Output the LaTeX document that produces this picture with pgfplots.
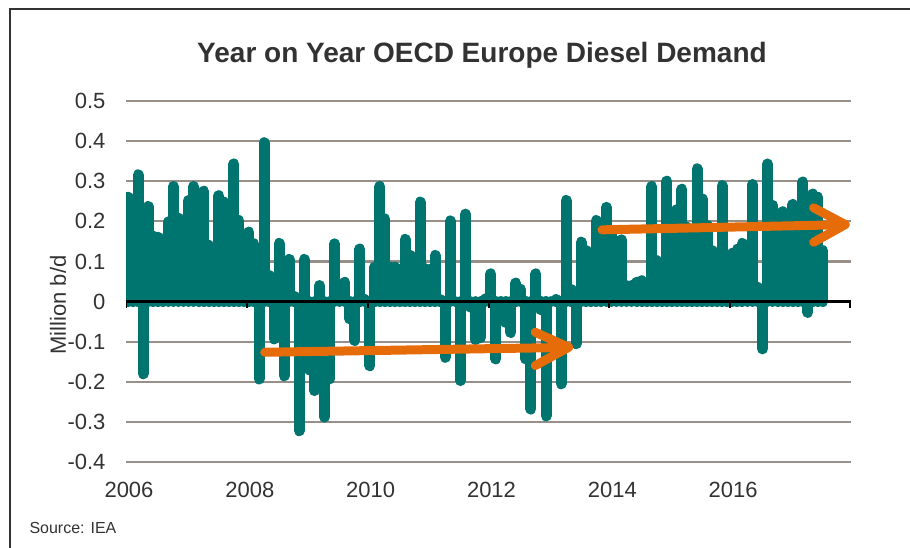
\documentclass[border=0pt]{standalone}
\usepackage{pgfplots}
\usepackage{pgfplotstable}
\pgfplotsset{compat=1.18}
\usepackage{fontspec}
\setmainfont{Liberation Sans}
\definecolor{barc}{RGB}{0,116,111}
\definecolor{gridc}{RGB}{152,143,136}
\definecolor{arr}{RGB}{230,108,10}
\definecolor{txt}{RGB}{50,50,50}
\pgfplotstableread{
i v
0 0.26
1 0.20
2 0.316
3 -0.18
4 0.237
5 0.163
6 0.16
7 0.15
8 0.199
9 0.287
10 0.208
11 0.18
12 0.252
13 0.287
14 0.25
15 0.275
16 0.14
17 0.12
18 0.264
19 0.248
20 0.22
21 0.343
22 0.202
23 0.15
24 0.173
25 0.144
26 -0.193
27 0.396
28 0.065
29 -0.093
30 0.145
31 -0.185
32 0.105
33 0.013
34 -0.322
35 0.105
36 -0.17
37 -0.222
38 0.04
39 -0.288
40 -0.193
41 0.144
42 0.02
43 0.048
44 -0.043
45 -0.097
46 0.131
47 0.005
48 -0.16
49 0.086
50 0.287
51 0.206
52 0.086
53 0.086
54 0.08
55 0.155
56 0.115
57 0.10
58 0.248
59 0.082
60 0.08
61 0.115
62 0.005
63 -0.139
64 0.201
65 0.0
66 -0.197
67 0.218
68 -0.014
69 -0.095
70 -0.09
71 0.007
72 0.069
73 -0.143
74 -0.04
75 -0.052
76 -0.077
77 0.046
78 0.03
79 -0.143
80 -0.268
81 0.069
82 -0.02
83 -0.285
84 0.0
85 0.005
86 -0.205
87 0.252
88 0.03
89 -0.105
90 0.148
91 0.127
92 0.10
93 0.202
94 0.15
95 0.235
96 0.177
97 0.15
98 0.154
99 0.04
100 0.04
101 0.048
102 0.052
103 0.03
104 0.287
105 0.102
106 0.09
107 0.30
108 0.20
109 0.229
110 0.28
111 0.185
112 0.17
113 0.331
114 0.256
115 0.19
116 0.127
117 0.10
118 0.289
119 0.10
120 0.12
121 0.13
122 0.145
123 0.13
124 0.292
125 0.036
126 -0.118
127 0.343
128 0.24
129 0.20
130 0.224
131 0.20
132 0.242
133 0.20
134 0.298
135 -0.027
136 0.268
137 0.26
138 0.127
}\demand
\begin{document}
\begin{tikzpicture}[x=1pt,y=1pt]
\useasboundingbox (0,0) rectangle (910,547);
\draw[line width=2pt, black!80] (10,-5) -- (10,538) -- (915,538);
\begin{axis}[
  at={(126pt,85pt)}, anchor=south west, scale only axis,
  width=725pt, height=361pt,
  xmin=0, xmax=144, ymin=-0.4, ymax=0.5,
  axis line style={draw=none},
  major tick length=0pt,
  xtick={0,24,48,72,96,120},
  xticklabels={2006,2008,2010,2012,2014,2016},
  ytick={-0.4,-0.3,-0.2,-0.1,0,0.1,0.2,0.3,0.4,0.5},
  yticklabels={-0.4,-0.3,-0.2,-0.1,0,0.1,0.2,0.3,0.4,0.5},
  ymajorgrids,
  grid style={gridc, line width=2.2pt},
  tick label style={font=\fontsize{22}{22}\selectfont, text=txt},
  xticklabel style={yshift=-17pt, xshift=3pt},
  yticklabel style={xshift=-17pt},
]
\addplot[ycomb, barc, line width=11pt, line cap=round, mark=none]
  table[x expr=\thisrow{i}+0.42, y=v] {\demand};
\draw[black, line width=2.5pt] (axis cs:0,0) -- (axis cs:144,0);
\draw[black, line width=2pt] (axis cs:0,0) -- ++(0pt,-6pt);
\draw[black, line width=2pt] (axis cs:24,0) -- ++(0pt,-6pt);
\draw[black, line width=2pt] (axis cs:48,0) -- ++(0pt,-6pt);
\draw[black, line width=2pt] (axis cs:72,0) -- ++(0pt,-6pt);
\draw[black, line width=2pt] (axis cs:96,0) -- ++(0pt,-6pt);
\draw[black, line width=2pt] (axis cs:120,0) -- ++(0pt,-6pt);
\draw[black, line width=2pt] (axis cs:143.8,0) -- ++(0pt,-6pt);
% annotation arrows
\draw[arr, line width=9pt, line cap=round] (axis cs:27.55,-0.1264) -- (axis cs:87.0,-0.1145);
\draw[arr, line width=9pt, line cap=round, line join=round] (axis cs:81.29,-0.0766) -- (axis cs:87.92,-0.114) -- (axis cs:81.29,-0.1596);
\draw[arr, line width=9pt, line cap=round] (axis cs:94.54,0.1788) -- (axis cs:142.0,0.1915);
\draw[arr, line width=9pt, line cap=round, line join=round] (axis cs:136.58,0.2337) -- (axis cs:142.86,0.192) -- (axis cs:136.58,0.1479);
\end{axis}
\node[font=\bfseries\fontsize{28}{28}\selectfont, text=txt] at (482,492) {Year on Year OECD Europe Diesel Demand};
\node[rotate=90, font=\fontsize{22}{22}\selectfont, text=txt] at (58,242) {Million b/d};
\node[anchor=west, font=\fontsize{16}{16}\selectfont, text=txt] at (26,19) {Source: IEA};
\end{tikzpicture}
\end{document}
